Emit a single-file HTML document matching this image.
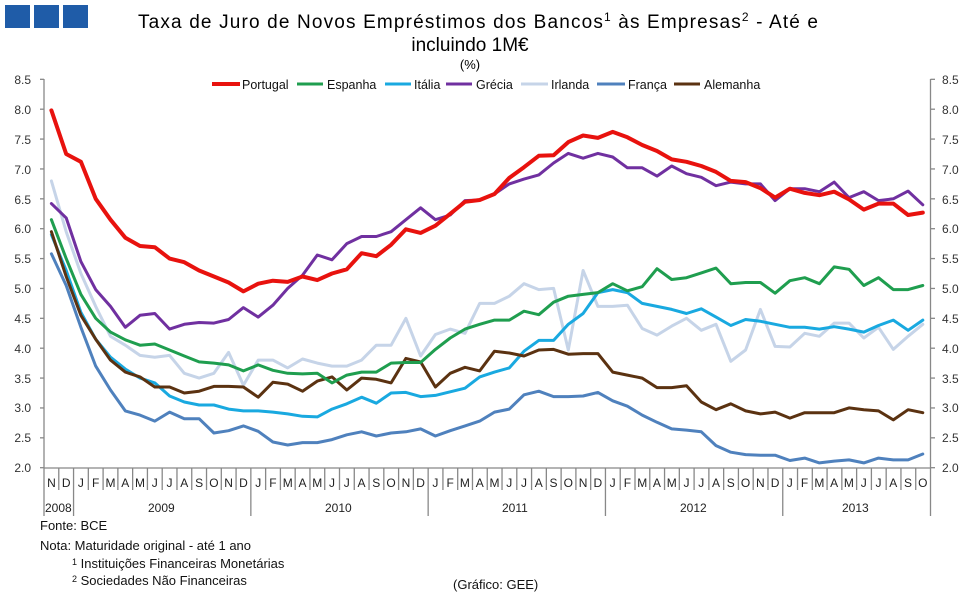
<!DOCTYPE html>
<html><head><meta charset="utf-8"><style>
body{margin:0;background:#fff;width:975px;height:594px;overflow:hidden;font-family:"Liberation Sans",sans-serif}
svg{position:absolute;left:0;top:0}
</style></head><body>
<svg id="s" width="975" height="594" xmlns="http://www.w3.org/2000/svg" font-family="Liberation Sans, sans-serif">
<rect x="5" y="5" width="25" height="23" fill="#1f5ca8"/>
<rect x="34" y="5" width="25" height="23" fill="#1f5ca8"/>
<rect x="63" y="5" width="25" height="23" fill="#1f5ca8"/>
<text x="138" y="28" font-size="19" fill="#000" textLength="680" lengthAdjust="spacing">Taxa de Juro de Novos Empréstimos  dos Bancos<tspan font-size="12" dy="-7">1</tspan><tspan dy="7"> às Empresas</tspan><tspan font-size="12" dy="-7">2</tspan><tspan dy="7"> - Até e</tspan></text>
<text x="470" y="51" font-size="19" text-anchor="middle">incluindo  1M€</text>
<text x="470" y="69" font-size="13" text-anchor="middle">(%)</text>
<g id="axes" stroke="#888" stroke-width="1.3" fill="none"></g>
<g font-size="12" fill="#333" text-anchor="end">
<text x="31" y="84">8.5</text><text x="31" y="114">8.0</text><text x="31" y="144">7.5</text><text x="31" y="174">7.0</text><text x="31" y="204">6.5</text><text x="31" y="233">6.0</text><text x="31" y="263">5.5</text><text x="31" y="293">5.0</text><text x="31" y="323">4.5</text><text x="31" y="353">4.0</text><text x="31" y="383">3.5</text><text x="31" y="412">3.0</text><text x="31" y="442">2.5</text><text x="31" y="472">2.0</text>
</g>
<g font-size="12" fill="#333">
<text x="942" y="84">8.5</text><text x="942" y="114">8.0</text><text x="942" y="144">7.5</text><text x="942" y="174">7.0</text><text x="942" y="204">6.5</text><text x="942" y="233">6.0</text><text x="942" y="263">5.5</text><text x="942" y="293">5.0</text><text x="942" y="323">4.5</text><text x="942" y="353">4.0</text><text x="942" y="383">3.5</text><text x="942" y="412">3.0</text><text x="942" y="442">2.5</text><text x="942" y="472">2.0</text>
</g>
<text font-size="12" fill="#222" text-anchor="middle" y="487" x="51.4 66.2 80.9 95.7 110.5 125.2 140.0 154.8 169.5 184.3 199.1 213.9 228.6 243.4 258.2 272.9 287.7 302.5 317.2 332.0 346.8 361.5 376.3 391.1 405.9 420.6 435.4 450.2 464.9 479.7 494.5 509.2 524.0 538.8 553.5 568.3 583.1 597.8 612.6 627.4 642.2 656.9 671.7 686.5 701.2 716.0 730.8 745.5 760.3 775.1 789.8 804.6 819.4 834.1 848.9 863.7 878.5 893.2 908.0 922.8">NDJFMAMJJASONDJFMAMJJASONDJFMAMJJASONDJFMAMJJASONDJFMAMJJASO</text>
<g font-size="12" fill="#222">
<text x="45" y="512">2008</text><text x="148" y="512">2009</text><text x="325" y="512">2010</text><text x="502" y="512">2011</text><text x="680" y="512">2012</text><text x="842" y="512">2013</text>
</g>
<g id="lines" fill="none" stroke-linejoin="round" stroke-linecap="round"></g>
<g font-size="12.5" fill="#111">
<line x1="212" y1="84" x2="240" y2="84" stroke="#e8120e" stroke-width="4"/><text x="242" y="89">Portugal</text>
<line x1="297" y1="84" x2="323" y2="84" stroke="#1f9e4f" stroke-width="3"/><text x="327" y="89">Espanha</text>
<line x1="385" y1="84" x2="411" y2="84" stroke="#19a9e0" stroke-width="3"/><text x="414" y="89">Itália</text>
<line x1="446" y1="84" x2="472" y2="84" stroke="#7030a0" stroke-width="3"/><text x="476" y="89">Grécia</text>
<line x1="521" y1="84" x2="548" y2="84" stroke="#c6d4e8" stroke-width="3"/><text x="551" y="89">Irlanda</text>
<line x1="597" y1="84" x2="625" y2="84" stroke="#4f81bd" stroke-width="3"/><text x="628" y="89">França</text>
<line x1="674" y1="84" x2="700" y2="84" stroke="#5b3211" stroke-width="3"/><text x="704" y="89">Alemanha</text>
</g>
<g font-size="13" fill="#111">
<text x="40" y="530">Fonte: BCE</text>
<text x="40" y="550">Nota: Maturidade original - até 1 ano</text>
<text x="72" y="568"><tspan font-size="9" dy="-3">1</tspan><tspan dy="3"> Instituições Financeiras Monetárias</tspan></text>
<text x="72" y="585"><tspan font-size="9" dy="-3">2</tspan><tspan dy="3"> Sociedades Não Financeiras</tspan></text>
<text x="453" y="589">(Gráfico:  GEE)</text>
</g>
</svg>
<script>
var NS="http://www.w3.org/2000/svg";
function Y(v){return 467.7-(v-2)*59.75;}
function X(i){return 51.4+14.77*i;}
var ax=document.getElementById("axes");
function ln(x1,y1,x2,y2){var l=document.createElementNS(NS,"line");l.setAttribute("x1",x1);l.setAttribute("y1",y1);l.setAttribute("x2",x2);l.setAttribute("y2",y2);ax.appendChild(l);}
ln(44,79,44,468);ln(930.5,79,930.5,468);ln(44,468,930.5,468);
for(var k=0;k<=13;k++){var y=Y(2+k*0.5);ln(40,y,44,y);ln(930.5,y,935,y);}
var yrs=[0,2,14,26,38,50,60];
for(var k=0;k<=60;k++){var x=44+14.775*k;ln(x,468,x,yrs.indexOf(k)>=0?516:490);}
var D={
"#c6d4e8":[6.8,5.95,5.25,4.7,4.2,4.05,3.88,3.85,3.88,3.58,3.5,3.58,3.93,3.38,3.8,3.8,3.67,3.82,3.75,3.7,3.7,3.8,4.05,4.05,4.5,3.87,4.23,4.32,4.25,4.75,4.75,4.87,5.08,4.98,5.0,3.97,5.3,4.7,4.7,4.72,4.33,4.22,4.37,4.5,4.3,4.4,3.78,3.97,4.65,4.03,4.02,4.25,4.2,4.42,4.42,4.17,4.35,3.98,4.2,4.4],
"#4f81bd":[5.58,5.05,4.35,3.7,3.3,2.95,2.88,2.78,2.93,2.82,2.82,2.58,2.62,2.7,2.61,2.43,2.38,2.42,2.42,2.47,2.55,2.6,2.53,2.58,2.6,2.65,2.53,2.62,2.7,2.78,2.93,2.98,3.22,3.28,3.19,3.19,3.2,3.26,3.12,3.03,2.88,2.76,2.65,2.63,2.6,2.37,2.26,2.22,2.21,2.21,2.12,2.16,2.08,2.11,2.13,2.08,2.16,2.13,2.13,2.23],
"#19a9e0":[5.9,5.3,4.6,4.15,3.85,3.65,3.5,3.42,3.2,3.1,3.05,3.05,2.98,2.95,2.95,2.93,2.9,2.86,2.85,2.98,3.07,3.18,3.08,3.25,3.26,3.19,3.21,3.27,3.33,3.52,3.6,3.67,3.95,4.13,4.13,4.4,4.58,4.93,4.98,4.93,4.75,4.7,4.65,4.58,4.66,4.52,4.38,4.48,4.45,4.4,4.35,4.35,4.32,4.36,4.32,4.27,4.38,4.47,4.3,4.47],
"#5b3211":[5.95,5.2,4.55,4.15,3.8,3.6,3.52,3.35,3.35,3.25,3.28,3.36,3.36,3.35,3.18,3.43,3.4,3.28,3.45,3.52,3.3,3.5,3.48,3.42,3.83,3.77,3.35,3.58,3.68,3.62,3.95,3.92,3.87,3.97,3.98,3.9,3.91,3.91,3.6,3.55,3.5,3.34,3.34,3.37,3.1,2.97,3.07,2.95,2.9,2.93,2.83,2.92,2.92,2.92,3.0,2.97,2.95,2.8,2.97,2.92],
"#1f9e4f":[6.15,5.5,4.9,4.5,4.27,4.14,4.05,4.07,3.97,3.87,3.77,3.75,3.72,3.62,3.72,3.63,3.58,3.57,3.58,3.42,3.55,3.6,3.6,3.75,3.76,3.76,3.98,4.17,4.32,4.4,4.47,4.47,4.62,4.56,4.77,4.87,4.9,4.93,5.08,4.96,5.03,5.33,5.15,5.18,5.26,5.34,5.08,5.1,5.1,4.92,5.13,5.18,5.08,5.36,5.32,5.05,5.18,4.98,4.98,5.05],
"#7030a0":[6.42,6.18,5.45,4.98,4.7,4.35,4.55,4.58,4.32,4.4,4.43,4.42,4.48,4.68,4.52,4.72,5.0,5.22,5.56,5.48,5.75,5.87,5.87,5.95,6.15,6.35,6.15,6.23,6.47,6.48,6.58,6.75,6.83,6.9,7.1,7.26,7.18,7.26,7.2,7.02,7.02,6.88,7.05,6.92,6.86,6.72,6.78,6.75,6.75,6.47,6.67,6.67,6.62,6.78,6.52,6.62,6.47,6.5,6.63,6.4],
"#e8120e":[7.98,7.25,7.12,6.5,6.15,5.85,5.71,5.69,5.5,5.44,5.3,5.2,5.1,4.95,5.08,5.13,5.11,5.2,5.14,5.25,5.32,5.59,5.54,5.73,5.99,5.93,6.05,6.25,6.45,6.48,6.58,6.85,7.03,7.22,7.23,7.45,7.56,7.52,7.62,7.53,7.4,7.3,7.16,7.12,7.05,6.95,6.8,6.78,6.68,6.52,6.67,6.6,6.56,6.62,6.49,6.32,6.42,6.42,6.23,6.27]};
var g=document.getElementById("lines");
for(var c in D){var p=document.createElementNS(NS,"polyline");p.setAttribute("points",D[c].map(function(v,i){return X(i).toFixed(1)+","+Y(v).toFixed(1)}).join(" "));p.setAttribute("stroke",c);p.setAttribute("stroke-width",c=="#e8120e"?4:3);g.appendChild(p);}
</script>
</body></html>
